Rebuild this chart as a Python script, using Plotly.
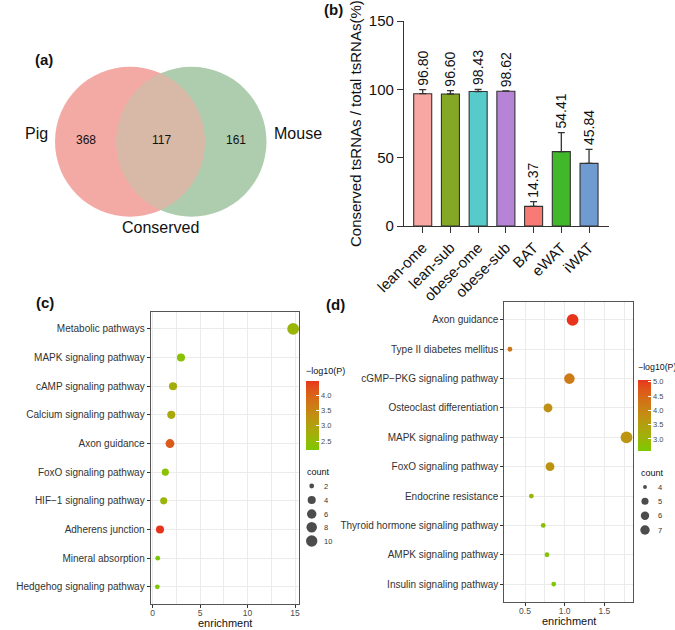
import math
import numpy as np
import plotly.graph_objects as go

W, H = 675, 630
FONT = "Liberation Sans, Arial, Helvetica, sans-serif"

# ---------------- data ----------------
# (a) Venn
venn_sets = ["Pig", "Mouse"]
venn_only = [368, 161]
venn_shared = 117
venn_shared_label = "Conserved"

# (b) bar chart
tissues = ["lean-ome", "lean-sub", "obese-ome", "obese-sub", "BAT", "eWAT", "iWAT"]
conserved_pct = [96.80, 96.60, 98.43, 98.62, 14.37, 54.41, 45.84]
conserved_err = [3.0, 2.4, 1.6, 0.3, 3.4, 13.9, 10.2]
bar_colors = ["#F9A7A3", "#84A825", "#57CACA", "#B683D6", "#F77A75", "#40B829", "#6F9BD0"]
pct_ticks = [0, 50, 100, 150]

# (c) KEGG enrichment (pig)
terms_c = ["Metabolic pathways", "MAPK signaling pathway", "cAMP signaling pathway",
           "Calcium signaling pathway", "Axon guidance", "FoxO signaling pathway",
           "HIF\u22121 signaling pathway", "Adherens junction", "Mineral absorption",
           "Hedgehog signaling pathway"]
enrich_c = [14.8, 2.98, 2.14, 1.96, 1.82, 1.33, 1.16, 0.77, 0.53, 0.49]
logp_c = [2.62, 2.35, 2.75, 2.85, 4.10, 2.35, 2.62, 4.46, 2.21, 2.26]
count_c = [11, 4, 4, 4, 5, 3, 3, 4, 2, 2]
count_breaks_c = [2, 4, 6, 8, 10]
logp_ticks_c = [2.5, 3.0, 3.5, 4.0]

# (d) KEGG enrichment (mouse)
terms_d = ["Axon guidance", "Type II diabetes mellitus", "cGMP\u2212PKG signaling pathway",
           "Osteoclast differentiation", "MAPK signaling pathway", "FoxO signaling pathway",
           "Endocrine resistance", "Thyroid hormone signaling pathway", "AMPK signaling pathway",
           "Insulin signaling pathway"]
enrich_d = [1.10, 0.31, 1.06, 0.79, 1.78, 0.815, 0.58, 0.73, 0.777, 0.862]
logp_d = [5.06, 4.30, 4.20, 3.80, 3.70, 3.75, 3.05, 2.80, 2.70, 2.58]
count_d = [7, 4, 6, 5, 7, 5, 4, 4, 4, 4]
count_breaks_d = [4, 5, 6, 7]
logp_ticks_d = [3.0, 3.5, 4.0, 4.5, 5.0]

# ---------------- helpers ----------------
def px(x):
    return x / W

def py(y):
    return 1 - y / H

def _lin(c):
    c = c / 255.0
    return c / 12.92 if c <= 0.04045 else ((c + 0.055) / 1.055) ** 2.4

def _gam(c):
    c = 12.92 * c if c <= 0.0031308 else 1.055 * c ** (1 / 2.4) - 0.055
    return int(round(min(max(c, 0), 1) * 255))

M = np.array([[0.4124, 0.3576, 0.1805], [0.2126, 0.7152, 0.0722], [0.0193, 0.1192, 0.9505]])
Minv = np.linalg.inv(M)
WN = np.array([0.95047, 1.0, 1.08883])

def rgb2lab(rgb):
    xyz = M @ np.array([_lin(c) for c in rgb]) / WN
    f = np.where(xyz > 0.008856, np.cbrt(xyz), 7.787 * xyz + 16 / 116)
    return np.array([116 * f[1] - 16, 500 * (f[0] - f[1]), 200 * (f[1] - f[2])])

def lab2rgb(lab):
    fy = (lab[0] + 16) / 116
    fx = fy + lab[1] / 500
    fz = fy - lab[2] / 200
    f = np.array([fx, fy, fz])
    xyz = np.where(f ** 3 > 0.008856, f ** 3, (f - 16 / 116) / 7.787) * WN
    lin = Minv @ xyz
    return "rgb(%d,%d,%d)" % tuple(_gam(c) for c in lin)

LOW = (124, 200, 0)
HIGH = (232, 52, 28)
la, lb = rgb2lab(LOW), rgb2lab(HIGH)
gradient = [[t, lab2rgb(la + (lb - la) * t)] for t in np.linspace(0, 1, 21)]

def dot_px(cnt, lo, hi):
    s = 1 + 5 * math.sqrt((cnt - lo) / (hi - lo))
    return 3.4 + 1.4 * s

fig = go.Figure()

# ---------------- (a) Venn ----------------
R = 75
cy = 141.7
cx_pig, cx_mouse = 130.0, 191.5
fig.add_shape(type="circle", xref="x4", yref="y4", x0=cx_pig - R, x1=cx_pig + R,
              y0=cy - R, y1=cy + R, fillcolor="#F3AAA5", line=dict(width=0), layer="below")
fig.add_shape(type="circle", xref="x4", yref="y4", x0=cx_mouse - R, x1=cx_mouse + R,
              y0=cy - R, y1=cy + R, fillcolor="#AECDAE", line=dict(width=0), layer="below")
xm = (cx_pig + cx_mouse) / 2
th = math.atan2(math.sqrt(R ** 2 - (xm - cx_pig) ** 2), xm - cx_pig)
a1 = np.linspace(-th, th, 60)
a2 = np.linspace(math.pi - th, math.pi + th, 60)
pts = [(cx_pig + R * math.cos(a), cy + R * math.sin(a)) for a in a1]
pts += [(cx_mouse + R * math.cos(a), cy - R * math.sin(a)) for a in a2]
path = "M " + " L ".join("%.2f,%.2f" % p for p in pts) + " Z"
fig.add_shape(type="path", xref="x4", yref="y4", path=path, fillcolor="#D8B8A6",
              line=dict(width=0), layer="below")

ann = []
def text(x, y, s, size, color="#111", bold=False, xanchor="center", yanchor="middle", angle=0):
    ann.append(dict(x=px(x), y=py(y), xref="paper", yref="paper", text=("<b>%s</b>" % s) if bold else s,
                    showarrow=False, font=dict(family=FONT, size=size, color=color),
                    xanchor=xanchor, yanchor=yanchor, textangle=angle))

text(44, 59, "(a)", 15, bold=True)
text(36, 133, venn_sets[0], 16)
text(298, 133, venn_sets[1], 16)
text(86, 140, str(venn_only[0]), 12)
text(161.5, 140, str(venn_shared), 12)
text(236, 140, str(venn_only[1]), 12)
text(160, 227, venn_shared_label, 16)

# ---------------- (b) bars ----------------
fig.add_trace(go.Bar(
    x=tissues, y=conserved_pct, xaxis="x", yaxis="y", width=0.65,
    marker=dict(color=bar_colors, line=dict(color="#333333", width=1.1)),
    error_y=dict(type="data", symmetric=False, array=conserved_err,
                 arrayminus=[0] * len(tissues), color="#333333", thickness=1.3, width=3.5),
    showlegend=False, hoverinfo="skip"))
for t, v, e in zip(tissues, conserved_pct, conserved_err):
    ann.append(dict(x=t, y=v + e, xref="x", yref="y", text="%.2f" % v, textangle=-90,
                    xanchor="center", yanchor="bottom", yshift=2, showarrow=False,
                    font=dict(family=FONT, size=14, color="#111")))
text(333, 10, "(b)", 15, bold=True)
text(356, 124, "Conserved tsRNAs / total tsRNAs(%)", 15, angle=-90)

# ---------------- (c)/(d) dot plots ----------------
fig.add_trace(go.Scatter(
    x=enrich_c, y=terms_c, xaxis="x2", yaxis="y2", mode="markers",
    marker=dict(size=[dot_px(c, min(count_c), max(count_c)) for c in count_c],
                color=logp_c, coloraxis="coloraxis", opacity=1, line=dict(width=0)),
    showlegend=False, hoverinfo="skip"))
fig.add_trace(go.Scatter(
    x=enrich_d, y=terms_d, xaxis="x3", yaxis="y3", mode="markers",
    marker=dict(size=[dot_px(c, min(count_d), max(count_d)) for c in count_d],
                color=logp_d, coloraxis="coloraxis2", opacity=1, line=dict(width=0)),
    showlegend=False, hoverinfo="skip"))

text(45, 302, "(c)", 15, bold=True)
text(335, 304, "(d)", 15, bold=True)
text((150.7 + 299.3) / 2, 623, "enrichment", 11)
text((504.3 + 632.7) / 2, 620.5, "enrichment", 11)
text(304, 371, "\u2212log10(P)", 9, xanchor="left")
text(636, 367, "\u2212log10(P)", 8.8, xanchor="left")
text(305, 472, "count", 9, xanchor="left")
text(639, 473, "count", 9, xanchor="left")

# size legends (pixel overlay axis)
leg_c_y = [486, 500, 514, 527.3, 541]
fig.add_trace(go.Scatter(
    x=[311.7] * len(count_breaks_c), y=leg_c_y, xaxis="x4", yaxis="y4", mode="markers",
    marker=dict(color="black", size=[dot_px(c, min(count_c), max(count_c)) for c in count_breaks_c],
                line=dict(width=0)), showlegend=False, hoverinfo="skip"))
for c, yy in zip(count_breaks_c, leg_c_y):
    text(322, yy, str(c), 7.5, color="#333", xanchor="left")
leg_d_y = [487, 501.3, 515.7, 530]
fig.add_trace(go.Scatter(
    x=[645] * len(count_breaks_d), y=leg_d_y, xaxis="x4", yaxis="y4", mode="markers",
    marker=dict(color="black", size=[0.8 * dot_px(c, min(count_d), max(count_d)) for c in count_breaks_d],
                line=dict(width=0)), showlegend=False, hoverinfo="skip"))
for c, yy in zip(count_breaks_d, leg_d_y):
    text(656, yy, str(c), 7.5, color="#333", xanchor="left")

def cbar(x, ytop, length, ticks):
    return dict(x=px(x), xanchor="left", y=py(ytop), yanchor="top", len=length, lenmode="pixels",
                thickness=13, thicknessmode="pixels", outlinewidth=0, xpad=0, ypad=0,
                ticks="inside", ticklen=3, tickcolor="white", tickwidth=1,
                tickvals=ticks, ticktext=["%.1f" % t for t in ticks],
                tickfont=dict(family=FONT, size=7.5, color="#4D4D4D"), title=dict(text=""))

grid = "#EBEBEB"
def dot_axes(domx, domy, xr, dtick, minor_dtick, terms, fmt):
    xa = dict(domain=domx, range=xr, dtick=dtick, tick0=0, tickformat=fmt, showgrid=True,
              gridcolor=grid, gridwidth=1.1, zeroline=False, showline=True, mirror=True,
              linecolor="#555555", linewidth=1, ticks="outside", ticklen=3, tickcolor="#333",
              tickfont=dict(family=FONT, size=8.5, color="#4D4D4D"), automargin=False,
              ticklabelstandoff=-2,
              minor=dict(dtick=minor_dtick, tick0=0, showgrid=True, gridcolor=grid, gridwidth=0.6, ticks=""),
              fixedrange=True)
    ya = dict(domain=domy, type="category", categoryorder="array", categoryarray=terms,
              range=[len(terms) - 0.4, -0.6], showgrid=True, gridcolor=grid, gridwidth=1.1,
              zeroline=False, showline=True, mirror=True, linecolor="#555555", linewidth=1,
              ticks="outside", ticklen=3, tickcolor="#333", automargin=False,
              tickfont=dict(family=FONT, size=10, color="#333"), fixedrange=True)
    return xa, ya

xa2, ya2 = dot_axes([px(150.7), px(299.3)], [py(604), py(311.7)], [-0.21, 15.45], 5, 2.5, terms_c, "d")
xa3, ya3 = dot_axes([px(504.3), px(632.7)], [py(601.7), py(302.3)], [0.239, 1.858], 0.5, 0.25, terms_d, ".1f")
xa2["anchor"] = "y2"; ya2["anchor"] = "x2"
xa3["anchor"] = "y3"; ya3["anchor"] = "x3"

fig.update_layout(
    template="none",
    width=W, height=H, autosize=False, margin=dict(l=0, r=0, t=0, b=0, pad=0),
    paper_bgcolor="white", plot_bgcolor="rgba(0,0,0,0)",
    font=dict(family=FONT, color="#111"),
    showlegend=False,
    xaxis=dict(domain=[px(404), px(609)], anchor="y", type="category", range=[-0.675, 6.72],
               showline=True, linecolor="#333333", linewidth=1.3, ticks="outside", ticklen=6,
               tickwidth=1.3, tickcolor="#333333", tickangle=-45, showgrid=False, zeroline=False,
               automargin=False,
               tickfont=dict(family=FONT, size=15, color="#111"), fixedrange=True),
    yaxis=dict(domain=[py(226), py(21)], anchor="x", range=[0, 150], tickvals=pct_ticks,
               showline=True, linecolor="#333333", linewidth=1.3, ticks="outside", ticklen=6,
               tickwidth=1.3, tickcolor="#333333", showgrid=False, zeroline=False,
               automargin=False,
               tickfont=dict(family=FONT, size=15, color="#111"), fixedrange=True),
    xaxis2=xa2, yaxis2=ya2, xaxis3=xa3, yaxis3=ya3,
    xaxis4=dict(domain=[0, 1], range=[0, W], visible=False, anchor="y4", fixedrange=True, automargin=False),
    yaxis4=dict(domain=[0, 1], range=[H, 0], visible=False, anchor="x4", fixedrange=True, automargin=False),
    coloraxis=dict(cmin=min(logp_c), cmax=max(logp_c), colorscale=gradient,
                   colorbar=cbar(306, 381, 69, logp_ticks_c)),
    coloraxis2=dict(cmin=min(logp_d), cmax=max(logp_d), colorscale=gradient,
                    colorbar=cbar(637.7, 380, 71, logp_ticks_d)),
    annotations=ann,
)

fig.write_html("out.html", config={"displayModeBar": False},
               post_script="document.body.style.margin='0px';document.body.style.overflow='hidden';")
